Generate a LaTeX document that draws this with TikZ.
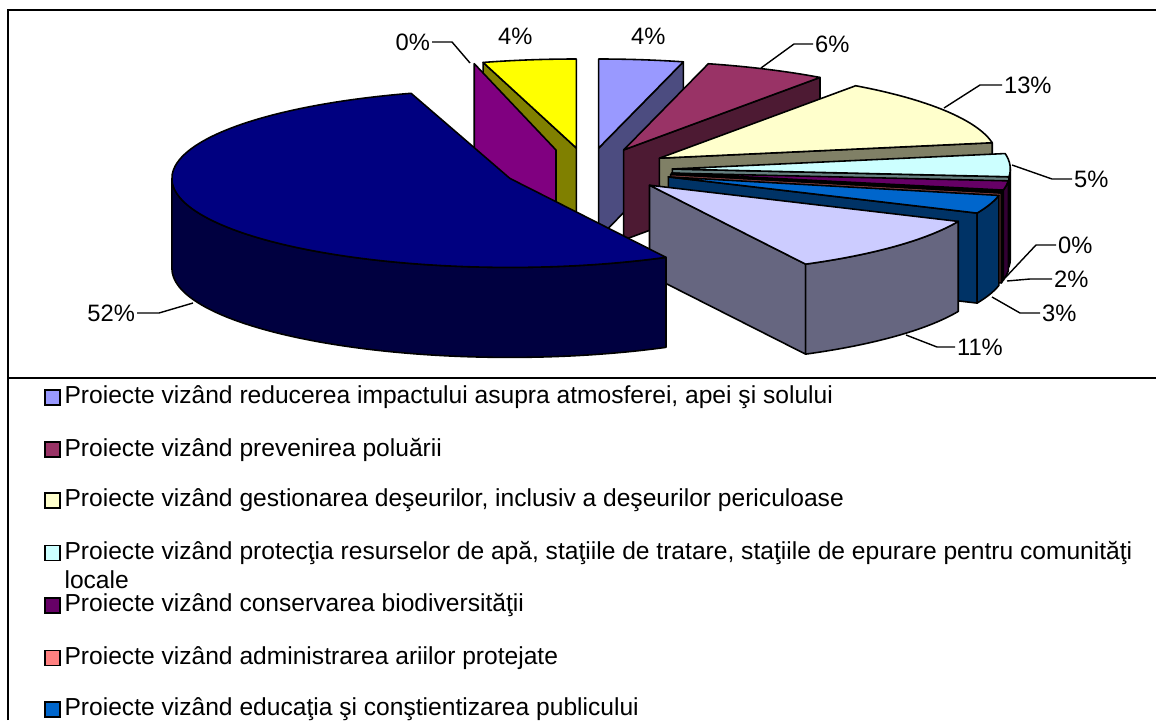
\documentclass[tikz,border=0pt]{standalone}
\usepackage{fontspec}
\setmainfont{Liberation Sans}
\usepackage{tikz}
\usetikzlibrary{positioning}

\definecolor{atmtop}{HTML}{9999FF}\definecolor{atmside}{HTML}{4C4C80}
\definecolor{poltop}{HTML}{993366}\definecolor{polside}{HTML}{4D1A33}
\definecolor{deştop}{HTML}{FFFFCC}\definecolor{deşside}{HTML}{808066}
\definecolor{apatop}{HTML}{CCFFFF}\definecolor{apaside}{HTML}{668080}
\definecolor{biotop}{HTML}{660066}\definecolor{bioside}{HTML}{330033}
\definecolor{arttop}{HTML}{FF8080}\definecolor{artside}{HTML}{804040}
\definecolor{edutop}{HTML}{0066CC}\definecolor{eduside}{HTML}{003366}
\definecolor{s8top}{HTML}{CCCCFF}\definecolor{s8side}{HTML}{666680}
\definecolor{s9top}{HTML}{000080}\definecolor{s9side}{HTML}{000040}
\definecolor{s10top}{HTML}{FF00FF}\definecolor{s10side}{HTML}{800080}
\definecolor{s11top}{HTML}{FFFF00}\definecolor{s11side}{HTML}{808000}

% faces of one exploded slice: colour, apex, angles
\newcommand{\topface}[4]{\filldraw[face, fill=#1] (#2) -- ++(#3:338 and 89) arc[start angle=#3, end angle=#4, x radius=338, y radius=89] -- cycle;}
\newcommand{\sideface}[3]{\filldraw[face, fill=#1] (#2) -- ++(#3:338 and 89) -- ++(0,90) -- ++({#3+180}:338 and 89) -- cycle;}
\newcommand{\outerface}[4]{\filldraw[face, fill=#1] (#2) ++(#3:338 and 89) arc[start angle=#3, end angle=#4, x radius=338, y radius=89] -- ++(0,90) arc[start angle=#4, end angle=#3, x radius=338, y radius=89] -- cycle;}

\begin{document}
\begin{tikzpicture}[x=0.02cm, y=-0.02cm,
  face/.style = {draw = black, line width = 0.9pt, line join = round},
  frame/.style = {line width = 1.2pt},
  lbl/.style = {font = \fontsize{13.5}{16}\selectfont, inner sep = 1pt},
  leader/.style = {line width = 0.8pt},
  legbox/.style = {draw, line width = 0.8pt, minimum size = 0.3cm, inner sep = 0pt},
  legtext/.style = {font = \fontsize{14}{16.5}\selectfont, inner sep = 0pt}]
\useasboundingbox (0,0) rectangle (1156,720);
\draw[frame] (8,720) -- (8,10) -- (1156,10);
\draw[frame] (8,378) -- (1156,378);

% apex of every slice
\coordinate (s1) at (598.7,148);
\coordinate (s2) at (623.7,149.9);
\coordinate (s3) at (659.4,158.2);
\coordinate (s4) at (672.3,169);
\coordinate (s5) at (671.6,173.1);
\coordinate (s6) at (670.7,174.4);
\coordinate (s7) at (668.3,176.9);
\coordinate (s8) at (649.5,185.2);
\coordinate (s9) at (509.9,178.4);
\coordinate (s10) at (556,150);
\coordinate (s11) at (576.3,148);

% back slices first
\sideface{s11side}{s11}{254}
\topface{s11top}{s11}{254}{270}
\sideface{atmside}{s1}{284.5}
\topface{atmtop}{s1}{270}{284.5}
\sideface{s10side}{s10}{256}
\sideface{polside}{s2}{305.5}
\topface{poltop}{s2}{284.5}{305.5}
\sideface{deşside}{s3}{350}
\topface{deştop}{s3}{305.5}{350}
\sideface{apaside}{s4}{365}
\outerface{apaside}{s4}{360}{365}
\topface{apatop}{s4}{350}{365}
\sideface{bioside}{s5}{11}
\outerface{bioside}{s5}{5}{11}
\topface{biotop}{s5}{5}{11}
\sideface{artside}{s6}{12}
\outerface{artside}{s6}{11}{12}
\topface{arttop}{s6}{11}{12}
\sideface{eduside}{s7}{24}
\outerface{eduside}{s7}{12}{24}
\topface{edutop}{s7}{12}{24}
\sideface{s8side}{s8}{62.5}
\outerface{s8side}{s8}{24}{62.5}
\topface{s8top}{s8}{24}{62.5}
\outerface{s9side}{s9}{62.5}{180}
\topface{s9top}{s9}{62.5}{253}

% percentage labels
\coordinate (e2) at (761,68);
\coordinate (e3) at (944,108);
\coordinate (e4) at (1012,165);
\coordinate (e5) at (1005,278);
\coordinate (e6) at (1007,281);
\coordinate (e7) at (992,297);
\coordinate (e8) at (906,335);
\coordinate (e9) at (193,303);
\coordinate (e10) at (470,63);
\node[lbl, anchor = west] (1) at (629,36) {4\%};
\node[lbl, anchor = west] (2) at (813,44) {6\%};
\node[lbl, anchor = west] (3) at (1002,85) {13\%};
\node[lbl, anchor = west] (4) at (1072,179) {5\%};
\node[lbl, anchor = west] (5) at (1056,245) {0\%};
\node[lbl, anchor = west] (6) at (1052,279) {2\%};
\node[lbl, anchor = west] (7) at (1040,313) {3\%};
\node[lbl, anchor = west] (8) at (955,347) {11\%};
\node[lbl, anchor = east] (9) at (137,313) {52\%};
\node[lbl, anchor = east] (10) at (432,42) {0\%};
\node[lbl, anchor = west] (11) at (496,36) {4\%};
\draw[leader] (2.west) -- ++(-19,0) -- (e2);
\draw[leader] (3.west) -- ++(-22,0) -- (e3);
\draw[leader] (4.west) -- ++(-20,0) -- (e4);
\draw[leader] (5.west) -- ++(-20,0) -- (e5);
\draw[leader] (6.west) -- ++(-22,0) -- (e6);
\draw[leader] (7.west) -- ++(-20,0) -- (e7);
\draw[leader] (8.west) -- ++(-18,0) -- (e8);
\draw[leader] (9.east) -- ++(22,0) -- (e9);
\draw[leader] (10.east) -- ++(20,0) -- (e10);

% legend
\node[legbox, fill = atmtop] (k1) at (52.5,397.5) {};
\node[legbox, fill = poltop] (k2) at (52.5,449.5) {};
\node[legbox, fill = deştop] (k3) at (52.5,500.5) {};
\node[legbox, fill = apatop] (k4) at (52.5,553) {};
\node[legbox, fill = biotop] (k5) at (52.5,605.5) {};
\node[legbox, fill = arttop] (k6) at (52.5,658) {};
\node[legbox, fill = edutop] (k7) at (52.5,709.5) {};
\node[legtext, right = 0.07cm of k1] (t1) {Proiecte vizând reducerea impactului asupra atmosferei, apei şi solului};
\node[legtext, right = 0.07cm of k2] (t2) {Proiecte vizând prevenirea poluării};
\node[legtext, right = 0.07cm of k3] (t3) {Proiecte vizând gestionarea deşeurilor, inclusiv a deşeurilor periculoase};
\node[legtext, right = 0.07cm of k4] (t4) {Proiecte vizând protecţia resurselor de apă, staţiile de tratare, staţiile de epurare pentru comunităţi};
\node[legtext, below = 0.11cm of t4.south west, anchor = north west] (t4b) {locale};
\node[legtext, right = 0.07cm of k5] (t5) {Proiecte vizând conservarea biodiversităţii};
\node[legtext, right = 0.07cm of k6] (t6) {Proiecte vizând administrarea ariilor protejate};
\node[legtext, right = 0.07cm of k7] (t7) {Proiecte vizând educaţia şi conştientizarea publicului};
\end{tikzpicture}
\end{document}
